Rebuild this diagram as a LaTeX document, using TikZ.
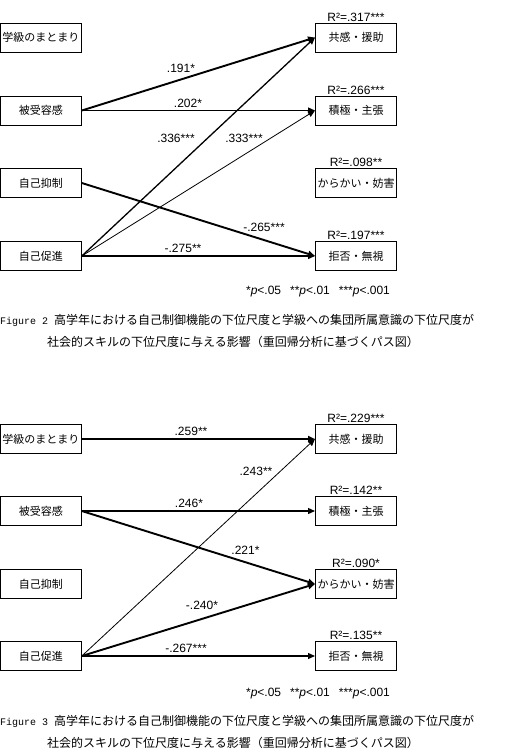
\documentclass[tikz,border=0pt]{standalone}
\usepackage{fontspec}
\setmainfont{Liberation Sans}
\newfontfamily\jp{Noto Sans CJK JP}
\newfontfamily\capmono{Liberation Mono}
\usepackage{tikz}
\usetikzlibrary{arrows.meta,positioning}

\begin{document}
\begin{tikzpicture}[
    x=1pt, y=-1pt,
    box/.style={rectangle, draw=black, line width=1pt, minimum width=81pt, minimum height=29pt, inner sep=0pt, align=center, font=\jp\fontsize{11}{13}\selectfont},
    rsq/.style={inner sep=1pt, font=\fontsize{12}{14}\selectfont},
    coef/.style={inner sep=0pt, font=\fontsize{12}{14}\selectfont},
    note/.style={inner sep=0pt, font=\fontsize{12}{14}\selectfont},
    capline/.style={inner sep=0pt, font=\jp\fontsize{12}{14}\selectfont},
    arrow/.style={-{Triangle[length=7pt,width=6pt]}},
    thickarrow/.style={arrow, line width=1.9pt},
    midarrow/.style={arrow, line width=1.3pt},
    thinarrow/.style={arrow, line width=0.8pt}
]
\useasboundingbox (0,0) rectangle (512,756);

% Figure 2
\node[box] (l2a) at (40.8,37.5) {学級のまとまり};
\node[box] (l2b) at (40.8,110.5) {被受容感};
\node[box] (l2c) at (40.8,183) {自己抑制};
\node[box] (l2d) at (40.8,256) {自己促進};
\node[box] (r2a) at (356,37.5) {共感・援助};
\node[box] (r2b) at (356,110.5) {積極・主張};
\node[box] (r2c) at (356,183) {からかい・妨害};
\node[box] (r2d) at (356,256) {拒否・無視};
\node[rsq, above=0pt of r2a] {R²=.317***};
\node[rsq, above=0pt of r2b] {R²=.266***};
\node[rsq, above=0pt of r2c] {R²=.098**};
\node[rsq, above=0pt of r2d] {R²=.197***};

\draw[thickarrow] (l2b.east) -- (r2a.west);
\draw[midarrow] (l2b.east) -- (r2b.west);
\draw[midarrow] (l2d.east) -- (r2a.west);
\draw[thinarrow] (l2d.east) -- (r2b.west);
\draw[thickarrow] (l2c.east) -- (r2d.west);
\draw[midarrow] (l2d.east) -- (r2d.west);

\node[coef] (c2a) at (181,68) {.191*};
\node[coef] (c2b) at (188,103) {.202*};
\node[coef] (c2c) at (176,138) {.336***};
\node[coef] (c2d) at (244,138) {.333***};
\node[coef] (c2e) at (264,227) {-.265***};
\node[coef] (c2f) at (183,248) {-.275**};

\node[note] (p2) at (318,292) {*\textit{p}<.05\hspace{9pt}**\textit{p}<.01\hspace{9pt}***\textit{p}<.001};
\node[capline, anchor=west] (cap2a) at (0,320) {{\capmono\fontsize{10}{12}\selectfont Figure 2 }高学年における自己制御機能の下位尺度と学級への集団所属意識の下位尺度が};
\node[capline] (cap2b) at (233,342) {社会的スキルの下位尺度に与える影響（重回帰分析に基づくパス図）};

% Figure 3
\node[box] (l3a) at (40.8,439) {学級のまとまり};
\node[box] (l3b) at (40.8,511) {被受容感};
\node[box] (l3c) at (40.8,584) {自己抑制};
\node[box] (l3d) at (40.8,656) {自己促進};
\node[box] (r3a) at (356,439) {共感・援助};
\node[box] (r3b) at (356,511) {積極・主張};
\node[box] (r3c) at (356,584) {からかい・妨害};
\node[box] (r3d) at (356,656) {拒否・無視};
\node[rsq, above=0pt of r3a] {R²=.229***};
\node[rsq, above=0pt of r3b] {R²=.142**};
\node[rsq, above=0pt of r3c] {R²=.090*};
\node[rsq, above=0pt of r3d] {R²=.135**};

\draw[thickarrow] (l3a.east) -- (r3a.west);
\draw[thinarrow] (l3d.east) -- (r3a.west);
\draw[midarrow] (l3b.east) -- (r3b.west);
\draw[thickarrow] (l3b.east) -- (r3c.west);
\draw[thickarrow] (l3d.east) -- (r3c.west);
\draw[midarrow] (l3d.east) -- (r3d.west);

\node[coef] (c3a) at (191,431) {.259**};
\node[coef] (c3b) at (256,471) {.243**};
\node[coef] (c3c) at (189,503) {.246*};
\node[coef] (c3d) at (245.5,550) {.221*};
\node[coef] (c3e) at (202,605) {-.240*};
\node[coef] (c3f) at (186,648) {-.267***};

\node[note] (p3) at (318,694) {*\textit{p}<.05\hspace{9pt}**\textit{p}<.01\hspace{9pt}***\textit{p}<.001};
\node[capline, anchor=west] (cap3a) at (0,721) {{\capmono\fontsize{10}{12}\selectfont Figure 3 }高学年における自己制御機能の下位尺度と学級への集団所属意識の下位尺度が};
\node[capline] (cap3b) at (233,743) {社会的スキルの下位尺度に与える影響（重回帰分析に基づくパス図）};
\end{tikzpicture}
\end{document}
